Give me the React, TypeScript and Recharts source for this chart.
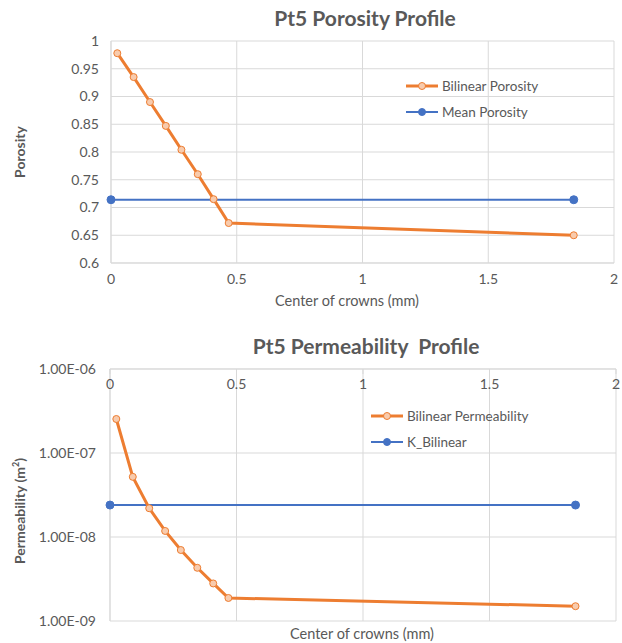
import { LineChart, Line, XAxis, YAxis, CartesianGrid } from 'recharts';

// crown centres (mm) shared by both profiles
const crownX = [0.025, 0.09, 0.155, 0.218, 0.28, 0.345, 0.408, 0.468, 1.84];
const bilinearPorosity = [0.978, 0.935, 0.89, 0.847, 0.804, 0.76, 0.715, 0.672, 0.65];
const bilinearPermeability = [2.54e-7, 5.2e-8, 2.2e-8, 1.18e-8, 7.0e-9, 4.3e-9, 2.8e-9, 1.88e-9, 1.5e-9];

const meanX = [0, 1.84];
const meanPorosity = 0.714;
const kBilinear = 2.4e-8;

const xTicks = [0, 0.5, 1, 1.5, 2];
const porosityTicks = [0.6, 0.65, 0.7, 0.75, 0.8, 0.85, 0.9, 0.95, 1];
const permTicks = [1e-9, 1e-8, 1e-7, 1e-6];

const ORANGE = '#ED7D31';
const BLUE = '#4472C4';
const MARKER_FILL = '#f8cbad';
const GRID = '#d9d9d9';
const TEXT = '#595959';
const FONT = 'Lato, "Open Sans", sans-serif';

const porosityData = crownX.map((x, i) => ({ x, y: bilinearPorosity[i] }));
const meanPorosityData = meanX.map((x) => ({ x, y: meanPorosity }));
const permData = crownX.map((x, i) => ({ x, y: bilinearPermeability[i] }));
const kBilinearData = meanX.map((x) => ({ x, y: kBilinear }));

// 1e-7 -> "1.00E-07"
const fmtExp = (v: number) => {
  const [m, e] = v.toExponential(2).split('e');
  const n = parseInt(e, 10);
  const sign = n < 0 ? '-' : '+';
  return `${m}E${sign}${String(Math.abs(n)).padStart(2, '0')}`;
};

const tickStyle = { fill: TEXT, fontSize: 14, fontFamily: FONT };

type LegendItem = { name: string; color: string; width: number; hollow: boolean };

function LegendBox({ items, left, top }: { items: LegendItem[]; left: number; top: number }) {
  return (
    <div style={{ position: 'absolute', left, top, fontFamily: FONT, fontSize: 13.5, color: TEXT }}>
      {items.map((it) => (
        <div key={it.name} style={{ display: 'flex', alignItems: 'center', height: 26 }}>
          <svg width={34} height={10} style={{ marginRight: 3 }}>
            <line x1={1} y1={5} x2={33} y2={5} stroke={it.color} strokeWidth={it.width} />
            <circle
              cx={17}
              cy={5}
              r={3.5}
              fill={it.hollow ? MARKER_FILL : it.color}
              stroke={it.color}
              strokeWidth={1}
            />
          </svg>
          <span>{it.name}</span>
        </div>
      ))}
    </div>
  );
}

const centred: React.CSSProperties = {
  position: 'absolute',
  fontFamily: FONT,
  color: TEXT,
  whiteSpace: 'nowrap',
  transform: 'translate(-50%, -50%)',
};

const titleStyle: React.CSSProperties = { ...centred, fontWeight: 700, fontSize: 21 };
const xTitle: React.CSSProperties = { ...centred, fontSize: 14.5 };
const yTitle: React.CSSProperties = {
  ...centred,
  fontWeight: 700,
  fontSize: 14,
  transform: 'translate(-50%, -50%) rotate(-90deg)',
};

export default function App() {
  return (
    <div style={{ position: 'absolute', left: 0, top: 0, width: 622, height: 643, background: '#fff' }}>
      {/* porosity profile */}
      <div style={{ position: 'absolute', left: 0, top: 0, width: 622, height: 320 }}>
        <LineChart width={622} height={320} margin={{ top: 41, right: 8, bottom: 27, left: 51 }}>
          <CartesianGrid stroke={GRID} />
          <XAxis
            type="number"
            dataKey="x"
            domain={[0, 2]}
            ticks={xTicks}
            height={30}
            axisLine={{ stroke: GRID }}
            tickLine={false}
            tickSize={0}
            tickMargin={11}
            tick={tickStyle}
            allowDuplicatedCategory={false}
          />
          <YAxis
            type="number"
            dataKey="y"
            domain={[0.6, 1]}
            ticks={porosityTicks}
            width={60}
            axisLine={{ stroke: GRID }}
            tickLine={false}
            tickSize={0}
            tickMargin={12}
            tick={tickStyle}
          />
          <Line
            data={meanPorosityData}
            dataKey="y"
            name="Mean Porosity"
            stroke={BLUE}
            strokeWidth={2}
            dot={{ r: 4, fill: BLUE, stroke: BLUE, strokeWidth: 1 }}
            isAnimationActive={false}
          />
          <Line
            data={porosityData}
            dataKey="y"
            name="Bilinear Porosity"
            stroke={ORANGE}
            strokeWidth={3}
            dot={{ r: 3.5, fill: MARKER_FILL, stroke: ORANGE, strokeWidth: 1 }}
            isAnimationActive={false}
          />
        </LineChart>
        <div style={{ ...titleStyle, left: 365, top: 17 }}>Pt5 Porosity Profile</div>
        <div style={{ ...yTitle, left: 19, top: 152 }}>Porosity</div>
        <div style={{ ...xTitle, left: 347, top: 300 }}>Center of crowns (mm)</div>
        <LegendBox
          left={405}
          top={73}
          items={[
            { name: 'Bilinear Porosity', color: ORANGE, width: 3, hollow: true },
            { name: 'Mean Porosity', color: BLUE, width: 2, hollow: false },
          ]}
        />
      </div>

      {/* permeability profile, log scale */}
      <div style={{ position: 'absolute', left: 0, top: 320, width: 622, height: 323 }}>
        <LineChart width={622} height={323} margin={{ top: 49, right: 6, bottom: 22, left: 40 }}>
          <CartesianGrid stroke={GRID} />
          <XAxis
            type="number"
            dataKey="x"
            orientation="top"
            mirror
            domain={[0, 2]}
            ticks={xTicks}
            axisLine={{ stroke: GRID }}
            tickLine={{ stroke: GRID }}
            tickSize={5}
            tickMargin={5}
            tick={tickStyle}
            allowDuplicatedCategory={false}
          />
          <YAxis
            type="number"
            dataKey="y"
            scale="log"
            domain={[1e-9, 1e-6]}
            ticks={permTicks}
            width={70}
            axisLine={{ stroke: GRID }}
            tickLine={false}
            tickSize={0}
            tickMargin={14}
            tick={tickStyle}
            tickFormatter={fmtExp}
            allowDataOverflow
          />
          <Line
            data={kBilinearData}
            dataKey="y"
            name="K_Bilinear"
            stroke={BLUE}
            strokeWidth={2}
            dot={{ r: 4, fill: BLUE, stroke: BLUE, strokeWidth: 1 }}
            isAnimationActive={false}
          />
          <Line
            data={permData}
            dataKey="y"
            name="Bilinear Permeability"
            stroke={ORANGE}
            strokeWidth={3}
            dot={{ r: 3.5, fill: MARKER_FILL, stroke: ORANGE, strokeWidth: 1 }}
            isAnimationActive={false}
          />
        </LineChart>
        <div style={{ ...titleStyle, left: 366, top: 25 }}>Pt5 Permeability&nbsp; Profile</div>
        <div style={{ ...yTitle, left: 19, top: 191 }}>
          Permeability (m<sup style={{ fontSize: 9 }}>2</sup>)
        </div>
        <div style={{ ...xTitle, left: 362, top: 313 }}>Center of crowns (mm)</div>
        <LegendBox
          left={370}
          top={83}
          items={[
            { name: 'Bilinear Permeability', color: ORANGE, width: 3, hollow: true },
            { name: 'K_Bilinear', color: BLUE, width: 2, hollow: false },
          ]}
        />
      </div>
    </div>
  );
}
